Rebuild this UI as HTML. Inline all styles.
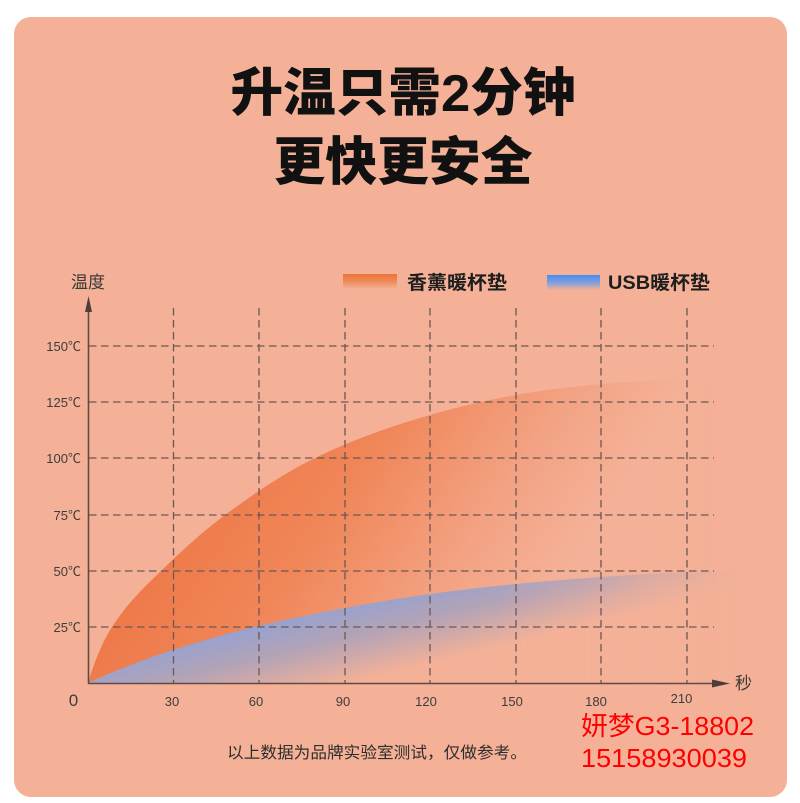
<!DOCTYPE html>
<html>
<head>
<meta charset="utf-8">
<style>
  html,body{margin:0;padding:0;background:#ffffff;}
  body{width:800px;height:803px;overflow:hidden;}
  svg{display:block;}
  .cjk{font-family:"Liberation Sans","Noto Sans CJK SC","WenQuanYi Zen Hei",sans-serif;}
</style>
</head>
<body>
<svg width="800" height="803" viewBox="0 0 800 803" xmlns="http://www.w3.org/2000/svg">
  <defs>
    <linearGradient id="gOr" gradientUnits="userSpaceOnUse" x1="200" y1="430" x2="520" y2="640">
      <stop offset="0" stop-color="#ee7646"/>
      <stop offset="0.4" stop-color="#f08658"/>
      <stop offset="0.75" stop-color="#f3a283"/>
      <stop offset="1" stop-color="#f4b197"/>
    </linearGradient>
    <linearGradient id="gBl" gradientUnits="userSpaceOnUse" x1="420" y1="583" x2="439" y2="662">
      <stop offset="0" stop-color="#94a2d2"/>
      <stop offset="0.45" stop-color="#b3a3b6"/>
      <stop offset="1" stop-color="#f4b197"/>
    </linearGradient>
    <linearGradient id="fadeOr" gradientUnits="userSpaceOnUse" x1="655" y1="0" x2="718" y2="0">
      <stop offset="0" stop-color="#fff"/>
      <stop offset="1" stop-color="#000"/>
    </linearGradient>
    <linearGradient id="fadeBl" gradientUnits="userSpaceOnUse" x1="500" y1="0" x2="745" y2="0">
      <stop offset="0" stop-color="#fff"/>
      <stop offset="0.45" stop-color="#bbb"/>
      <stop offset="0.76" stop-color="#666"/>
      <stop offset="1" stop-color="#000"/>
    </linearGradient>
    <mask id="mOr"><rect x="0" y="0" width="800" height="803" fill="url(#fadeOr)"/></mask>
    <mask id="mBl"><rect x="0" y="0" width="800" height="803" fill="url(#fadeBl)"/></mask>
    <linearGradient id="swOr" x1="0" y1="0" x2="0" y2="1">
      <stop offset="0" stop-color="#ec7436"/>
      <stop offset="0.5" stop-color="#ef8a5a"/>
      <stop offset="1" stop-color="#f4b197"/>
    </linearGradient>
    <linearGradient id="swBl" x1="0" y1="0" x2="0" y2="1">
      <stop offset="0" stop-color="#478df2"/>
      <stop offset="0.5" stop-color="#7f9fdc"/>
      <stop offset="1" stop-color="#f4b197"/>
    </linearGradient>
  </defs>

  <!-- card -->
  <rect x="14" y="17" width="773" height="780" rx="17" ry="17" fill="#f4b197"/>

  <!-- title -->
  <text x="403" y="111" text-anchor="middle" class="cjk" font-size="52" font-weight="900" fill="#111" textLength="345" lengthAdjust="spacingAndGlyphs">升温只需2分钟</text>
  <text x="403" y="180" text-anchor="middle" class="cjk" font-size="52" font-weight="900" fill="#111" textLength="259" lengthAdjust="spacingAndGlyphs">更快更安全</text>

  <!-- legend -->
  <rect x="343" y="274" width="54" height="15" fill="url(#swOr)"/>
  <text x="407" y="289" class="cjk" font-size="19" font-weight="700" fill="#1e1e1e" textLength="100" lengthAdjust="spacingAndGlyphs">香薰暖杯垫</text>
  <rect x="547" y="275" width="53" height="15" fill="url(#swBl)"/>
  <text x="608" y="289" class="cjk" font-size="19" font-weight="700" fill="#1e1e1e" textLength="102" lengthAdjust="spacingAndGlyphs">USB暖杯垫</text>

  <!-- y axis label -->
  <text x="71" y="288" class="cjk" font-size="17" fill="#3a3a3a">温度</text>

  <!-- orange area -->
  <path mask="url(#mOr)" fill="url(#gOr)" d="M88,683 C96,656.6 104,639.4 112,627 C128.3,601.7 144.7,587 161,571 C182.3,550.1 203.7,530.8 225,515 C255,492.8 285,472.7 315,458 C353.3,439.2 391.7,426.1 430,415 C458.7,406.7 487.3,400.2 516,395 C544.7,389.8 573.3,386.6 602,384 C630.3,381.4 658.7,380.1 687,379 C696.3,378.6 705.7,378.2 715,378 L715,683 Z"/>

  <!-- blue area -->
  <path mask="url(#mBl)" fill="url(#gBl)" d="M88,683 C93,680.8 103.8,675.5 118,670 C132.2,664.5 150.3,657.2 173,650 C195.7,642.8 225.3,634 254,627 C282.7,620 315.7,613.5 345,608 C374.3,602.5 401.5,598 430,594 C458.5,590 487.5,586.8 516,584 C544.5,581.2 572.5,579 601,577 C629.5,575 664.3,573 687,572 C709.7,571 728.7,571.2 737,571 L737,683 Z"/>

  <!-- grid -->
  <g stroke="#6b5853" stroke-width="1.3" stroke-dasharray="7.5 4.5" fill="none">
    <line x1="89" y1="346" x2="714" y2="346"/>
    <line x1="89" y1="402" x2="714" y2="402"/>
    <line x1="89" y1="458" x2="714" y2="458"/>
    <line x1="89" y1="515" x2="714" y2="515"/>
    <line x1="89" y1="571" x2="714" y2="571"/>
    <line x1="89" y1="627" x2="714" y2="627"/>
    <line x1="173.5" y1="308" x2="173.5" y2="683"/>
    <line x1="259" y1="308" x2="259" y2="683"/>
    <line x1="345" y1="308" x2="345" y2="683"/>
    <line x1="430" y1="308" x2="430" y2="683"/>
    <line x1="516" y1="308" x2="516" y2="683"/>
    <line x1="601" y1="308" x2="601" y2="683"/>
    <line x1="687" y1="308" x2="687" y2="683"/>
  </g>

  <!-- axes -->
  <g stroke="#5e4b47" stroke-width="1.6">
    <line x1="88.5" y1="308" x2="88.5" y2="683.5"/>
    <line x1="88" y1="683.5" x2="716" y2="683.5"/>
  </g>
  <polygon points="88.5,296 85,312 92,312" fill="#4e3e3a"/>
  <polygon points="712,679.5 730,683.5 712,687.5" fill="#4e3e3a"/>

  <!-- y tick labels -->
  <g class="cjk" font-size="13" fill="#3d3d3d" text-anchor="end">
    <text x="81" y="351">150℃</text>
    <text x="81" y="407">125℃</text>
    <text x="81" y="463">100℃</text>
    <text x="81" y="520">75℃</text>
    <text x="81" y="576">50℃</text>
    <text x="81" y="632">25℃</text>
  </g>

  <!-- x tick labels -->
  <text x="73.5" y="706" class="cjk" font-size="17" fill="#3d3d3d" text-anchor="middle">0</text>
  <g class="cjk" font-size="13" fill="#3d3d3d" text-anchor="middle">
    <text x="172" y="706">30</text>
    <text x="256" y="706">60</text>
    <text x="343" y="706">90</text>
    <text x="426" y="706">120</text>
    <text x="512" y="706">150</text>
    <text x="596" y="706">180</text>
    <text x="681.5" y="703">210</text>
  </g>
  <text x="735" y="689" class="cjk" font-size="17" fill="#3a3a3a">秒</text>

  <!-- footer -->
  <text x="227" y="758" class="cjk" font-size="16" fill="#2e2e2e" textLength="300" lengthAdjust="spacingAndGlyphs">以上数据为品牌实验室测试，仅做参考。</text>

  <!-- watermark red text -->
  <text x="581" y="735" class="cjk" font-size="26" fill="#ff0000" textLength="173" lengthAdjust="spacingAndGlyphs">妍梦G3-18802</text>
  <text x="581" y="767" class="cjk" font-size="26" fill="#ff0000" textLength="166" lengthAdjust="spacingAndGlyphs">15158930039</text>
</svg>
</body>
</html>
